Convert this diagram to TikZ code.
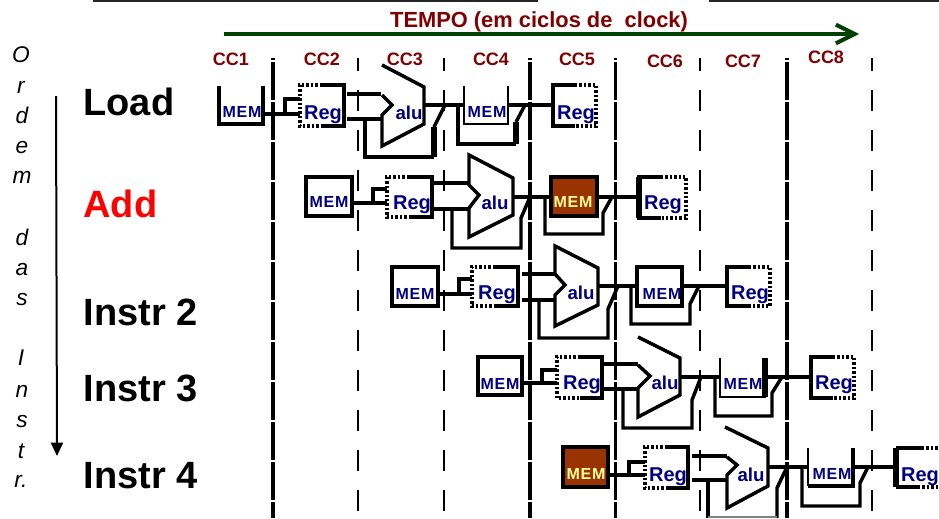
\documentclass[tikz,border=0pt]{standalone}
\usepackage{tikz}
\usepackage{fontspec}
\setmainfont{Liberation Sans}
\newfontfamily\memfont[LetterSpace=5]{Liberation Sans}
\usetikzlibrary{arrows.meta}
\definecolor{cycleRed}{RGB}{128,0,0}
\definecolor{timeGreen}{RGB}{0,64,0}
\definecolor{unitBlue}{RGB}{0,0,128}
\definecolor{memBrown}{RGB}{153,51,0}
\definecolor{memYellow}{RGB}{255,255,153}
\tikzset{every picture/.style={line width=0.75pt}}
\tikzset{
  wire/.style={line width=2.6pt,line join=miter},
  thinwire/.style={line width=1.9pt},
  thickwire/.style={line width=3.8pt},
  regdots/.style={line width=2.6pt,dash pattern=on 1.8pt off 1.5pt},
  cyclesolid/.style={line width=2.6pt,dash pattern=on 28.5pt off 1.5pt,dash phase=27pt},
  cycledash/.style={line width=2.1pt,dash pattern=on 15.75pt off 14.25pt,dash phase=6pt},
  cclabel/.style={anchor=base,inner sep=0pt,text=cycleRed,font=\bfseries\fontsize{13.5}{15}\selectfont},
  orderletter/.style={anchor=base,inner sep=0pt,font=\itshape\fontsize{17}{20}\selectfont},
  instrlabel/.style={anchor=base west,inner sep=0pt,font=\bfseries\fontsize{28.5}{32}\selectfont},
  reglabel/.style={anchor=base,inner sep=0pt,text=unitBlue,font=\bfseries\fontsize{15}{17}\selectfont},
  alulabel/.style={anchor=base,inner sep=0pt,text=unitBlue,font=\bfseries\fontsize{14}{16}\selectfont},
  memlabel/.style={anchor=base,inner sep=0pt,text=unitBlue,font=\memfont\bfseries\fontsize{12}{14}\selectfont},
}
\begin{document}
\begin{tikzpicture}[x=0.75pt,y=0.75pt,yscale=-1,xscale=1]
\path[use as bounding box] (0,0) rectangle (939,518);
%top edge
\draw [line width=1.5pt,color=black!85] (93,0.8) -- (538,0.8);
\draw [line width=1.5pt,color=black!85] (709,0.8) -- (939,0.8);
%clock cycle lines
\draw [cyclesolid] (273,58) -- (273,518);
\draw [cycledash] (358,58) -- (358,518);
\draw [cycledash] (444,58) -- (444,518);
\draw [cyclesolid] (530,58) -- (530,518);
\draw [cyclesolid] (615.5,58) -- (615.5,518);
\draw [cycledash] (700,58) -- (700,518);
\draw [cyclesolid] (787,58) -- (787,518);
\draw [cycledash] (872,58) -- (872,518);
%time arrow
\draw [line width=3pt,color=timeGreen,-{Straight Barb[length=14pt,width=14pt,line width=3pt]}] (224,34) -- (859,34);
%order arrow
\draw [line width=1.5pt,-{Triangle[length=10pt,width=9pt]}] (56,96) -- (57,456);

%Load
\draw [wire] (219,86) -- (219,124) -- (263,124) -- (263,86);
\draw [wire] (263,114) -- (300,114);
\draw [wire] (285,114) -- (285,99) -- (300,99);
\draw [wire] (322,85) -- (344,85) -- (344,126) -- (322,126);
\draw [regdots] (322,85) -- (300,85) -- (300,126) -- (322,126);
\draw [wire] (347,94) -- (381,94);
\draw [wire] (347,119) -- (382,119);
\draw [wire] (382,65) -- (424,87) -- (424,124) -- (382,146) -- (382,115) -- (392,105) -- (382,95);
\draw [wire] (424,105) -- (464,105);
\draw [wire] (445,105) -- (434,127);
\draw [thickwire] (434,127) -- (434,157);
\draw [wire] (434,157) -- (365,157) -- (365,119);
\draw [thinwire] (464,86) -- (464,124) -- (508,124) -- (508,86);
\draw [wire] (508,105) -- (553,105);
\draw [wire] (458,105) -- (458,144) -- (516,144);
\draw [thickwire] (516,144) -- (516,122);
\draw [wire] (516,122) -- (525,105);
\draw [wire] (575,85) -- (553,85) -- (553,126) -- (575,126);
\draw [regdots] (575,85) -- (596,85) -- (596,126) -- (575,126);

%Add
\draw [wire] (306,177) rectangle (352,216);
\draw [wire] (352,203) -- (387,203);
\draw [wire] (373,203) -- (373,189) -- (387,189);
\draw [wire] (409,177) -- (432,177) -- (432,217) -- (409,217);
\draw [regdots] (409,177) -- (387,177) -- (387,217) -- (409,217);
\draw [wire] (433,183) -- (469,183);
\draw [wire] (433,209) -- (469,209);
\draw [wire] (469,155) -- (513,178) -- (513,215) -- (469,237) -- (469,208) -- (479,195) -- (469,185) -- cycle;
\draw [wire] (513,197) -- (551,197);
\draw [wire] (530,197) -- (521,218) -- (521,248) -- (452,248) -- (452,209);
\draw [wire,fill=memBrown] (551,177) rectangle (597,216);
\draw [wire] (597,197) -- (639,197);
\draw [wire] (545,197) -- (545,234) -- (603,234) -- (603,213) -- (612,197);
\draw [wire] (661,177) -- (639,177) -- (639,218) -- (661,218);
\draw [thickwire] (639,177) -- (639,218);
\draw [regdots] (661,177) -- (686,177) -- (686,218) -- (661,218);

%Instr 2
\draw [wire] (392,267) rectangle (438,306);
\draw [wire] (438,294) -- (472,294);
\draw [wire] (459,294) -- (459,279) -- (472,279);
\draw [wire] (495,267) -- (518,267) -- (518,306) -- (495,306);
\draw [regdots] (495,267) -- (472,267) -- (472,306) -- (495,306);
\draw [wire] (522,274) -- (555,274);
\draw [wire] (522,300) -- (555,300);
\draw [wire] (555,246) -- (598,268) -- (598,305) -- (555,326) -- (555,295) -- (565,285) -- (555,274) -- cycle;
\draw [wire] (598,286) -- (637,286);
\draw [wire] (618,286) -- (608,309) -- (608,338) -- (539,338) -- (539,300);
\draw [wire] (637,267) rectangle (682,306);
\draw [wire] (682,286) -- (727,286);
\draw [wire] (631,286) -- (631,324) -- (690,324) -- (690,304) -- (699,286);
\draw [wire] (749,267) -- (727,267) -- (727,306) -- (749,306);
\draw [regdots] (749,267) -- (770,267) -- (770,306) -- (749,306);

%Instr 3
\draw [wire] (478,357) rectangle (522,395);
\draw [wire] (522,383) -- (557,383);
\draw [wire] (542,383) -- (542,370) -- (557,370);
\draw [wire] (580,357) -- (602,357) -- (602,398) -- (580,398);
\draw [regdots] (580,357) -- (557,357) -- (557,398) -- (580,398);
\draw [wire] (603,364) -- (638,364);
\draw [wire] (603,389) -- (638,389);
\draw [wire] (638,337) -- (680,358) -- (680,395) -- (638,417) -- (638,388) -- (650,376) -- (638,365);
\draw [wire] (680,377) -- (720,377);
\draw [wire] (701,377) -- (692,400) -- (692,428) -- (623,428) -- (623,389);
\draw [thinwire] (720,358) -- (720,397) -- (765,397) -- (765,358);
\draw [thickwire] (765,358) -- (765,397);
\draw [wire] (765,377) -- (811,377);
\draw [wire] (715,377) -- (715,416) -- (772,416) -- (772,393) -- (782,377);
\draw [wire] (833,357) -- (811,357) -- (811,398) -- (833,398);
\draw [regdots] (833,357) -- (854,357) -- (854,398) -- (833,398);

%Instr 4
\draw [wire,fill=memBrown] (563,447) rectangle (608,487);
\draw [wire] (608,475) -- (645,475);
\draw [wire] (629,475) -- (629,462) -- (645,462);
\draw [wire] (667,447) -- (688,447) -- (688,488) -- (667,488);
\draw [regdots] (667,447) -- (645,447) -- (645,488) -- (667,488);
\draw [wire] (692,456) -- (727,456);
\draw [wire] (692,480) -- (727,480);
\draw [wire] (725,427) -- (768,448) -- (768,486) -- (727,508) -- (727,475) -- (737,465) -- (727,457);
\draw [wire] (768,467) -- (808,467);
\draw [wire] (787,467) -- (777,488) -- (777,518);
\draw [wire] (708,480) -- (708,518);
\draw [line width=1pt,color=black!50] (708,517) -- (777,517);
\draw [thinwire] (808,448) -- (808,486);
\draw [wire] (808,486) -- (853,486) -- (853,448);
\draw [wire] (853,467) -- (897,467);
\draw [wire] (802,467) -- (802,506) -- (860,506) -- (860,483) -- (868,467);
\draw [thickwire] (896,448) -- (896,487);
\draw [wire] (896,448) -- (922,448);
\draw [wire] (896,487) -- (918,487);
\draw [regdots] (922,448) -- (939,448);
\draw [regdots] (918,487) -- (939,487);

% Text Node
\node [anchor=base,inner sep=0pt,text=cycleRed,font=\bfseries\fontsize{16.4}{19}\selectfont] (tempo) at (539,27) {TEMPO (em ciclos de\ \ clock)};
% Text Node
\node [cclabel] (cc1) at (231,65) {CC1};
\node [cclabel] (cc2) at (322,65) {CC2};
\node [cclabel] (cc3) at (405,65) {CC3};
\node [cclabel] (cc4) at (491,65) {CC4};
\node [cclabel] (cc5) at (577,65) {CC5};
\node [cclabel] (cc6) at (665,67) {CC6};
\node [cclabel] (cc7) at (743,67) {CC7};
\node [cclabel] (cc8) at (826,63) {CC8};
% Text Node
\node [orderletter] (ordO) at (21,62) {O};
\node [orderletter] (ordR) at (21,93) {r};
\node [orderletter] (ordD) at (22,123) {d};
\node [orderletter] (ordE) at (22,153) {e};
\node [orderletter] (ordM) at (22,183) {m};
\node [orderletter] (dasD) at (22,245) {d};
\node [orderletter] (dasA) at (22,275) {a};
\node [orderletter] (dasS) at (22,305) {s};
\node [orderletter] (insI) at (21,365) {I};
\node [orderletter] (insN) at (22,397) {n};
\node [orderletter] (insS) at (22,427) {s};
\node [orderletter] (insT) at (21,458) {t};
\node [orderletter] (insR) at (21,487) {r.};
% Text Node
\node [instrlabel] (load) at (83,115) {Load};
\node [instrlabel,text=red] (add) at (83,217) {Add};
\node [instrlabel] (instr2) at (83,325) {Instr 2};
\node [instrlabel] (instr3) at (83,401) {Instr 3};
\node [instrlabel] (instr4) at (83,488) {Instr 4};
% Text Node
\node [memlabel] (memA) at (242,117) {MEM};
\node [reglabel] (regA) at (323,119) {Reg};
\node [alulabel] (aluA) at (409,119) {alu};
\node [memlabel] (memAb) at (487,117) {MEM};
\node [reglabel] (regAb) at (576,119) {Reg};
% Text Node
\node [memlabel] (memB) at (329,207) {MEM};
\node [reglabel] (regB) at (412,209) {Reg};
\node [alulabel] (aluB) at (495,209) {alu};
\node [memlabel,text=memYellow] (memBb) at (573,207) {MEM};
\node [reglabel] (regBb) at (663,209) {Reg};
% Text Node
\node [memlabel] (memC) at (415,299) {MEM};
\node [reglabel] (regC) at (497,299) {Reg};
\node [alulabel] (aluC) at (581,299) {alu};
\node [memlabel] (memCb) at (662,299) {MEM};
\node [reglabel] (regCb) at (750,299) {Reg};
% Text Node
\node [memlabel] (memD) at (500,389) {MEM};
\node [reglabel] (regD) at (582,389) {Reg};
\node [alulabel] (aluD) at (665,389) {alu};
\node [memlabel] (memDb) at (743,389) {MEM};
\node [reglabel] (regDb) at (834,389) {Reg};
% Text Node
\node [memlabel,text=memYellow] (memE) at (586,479) {MEM};
\node [reglabel] (regE) at (668,481) {Reg};
\node [alulabel] (aluE) at (751,481) {alu};
\node [memlabel] (memEb) at (832,479) {MEM};
\node [reglabel] (regEb) at (920,481) {Reg};
\end{tikzpicture}
\end{document}
